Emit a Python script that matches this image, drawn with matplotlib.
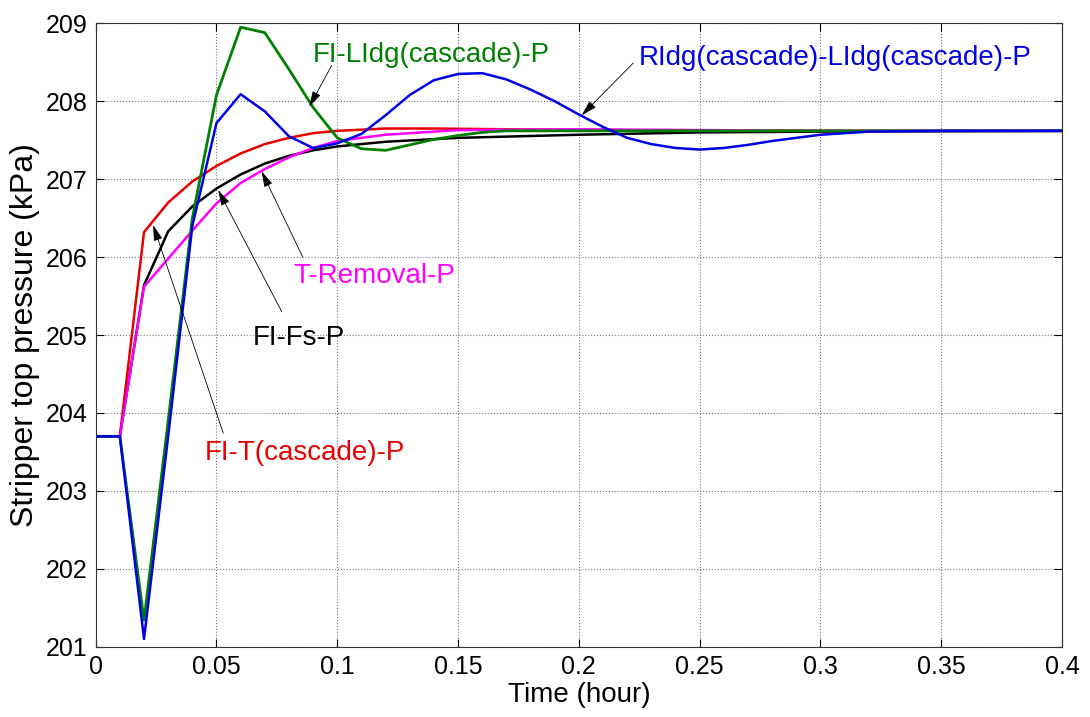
import numpy as np
import matplotlib
matplotlib.use("Agg")
import matplotlib.pyplot as plt

plt.rcParams["font.family"] = ["Liberation Sans", "DejaVu Sans"]

# =========================
# Data
# =========================

# FI-T(cascade)-P  (red)
t_red = [0, 0.01, 0.02, 0.03, 0.04, 0.05, 0.06, 0.07, 0.08, 0.09, 0.10,
         0.12, 0.14, 0.17, 0.20, 0.30, 0.40]
p_red = [203.70, 203.70, 206.32, 206.70, 206.97, 207.17, 207.33, 207.45, 207.53, 207.59, 207.62,
         207.65, 207.65, 207.64, 207.63, 207.62, 207.62]

# FI-Fs-P  (black)
t_black = [0, 0.01, 0.02, 0.03, 0.04, 0.05, 0.06, 0.07, 0.08, 0.09, 0.10,
           0.12, 0.15, 0.20, 0.25, 0.30, 0.40]
p_black = [203.70, 203.70, 205.64, 206.33, 206.65, 206.88, 207.06, 207.20, 207.30, 207.37, 207.42,
           207.48, 207.53, 207.57, 207.60, 207.61, 207.62]

# T-Removal-P  (magenta)
t_mag = [0, 0.01, 0.02, 0.03, 0.04, 0.05, 0.06, 0.07, 0.08, 0.09, 0.10,
         0.12, 0.15, 0.20, 0.30, 0.40]
p_mag = [203.70, 203.70, 205.62, 205.98, 206.34, 206.69, 206.95, 207.13, 207.28, 207.40, 207.49,
         207.57, 207.63, 207.64, 207.62, 207.62]

# FI-LIdg(cascade)-P  (green)
t_green = [0, 0.01, 0.02, 0.03, 0.04, 0.05, 0.06, 0.07, 0.08, 0.09, 0.10,
           0.11, 0.12, 0.13, 0.14, 0.15, 0.16, 0.17, 0.20, 0.30, 0.40]
p_green = [203.70, 203.70, 201.34, 203.90, 206.50, 208.08, 208.95, 208.88, 208.41, 207.92, 207.53,
           207.39, 207.37, 207.44, 207.51, 207.56, 207.60, 207.62, 207.62, 207.62, 207.62]

# RIdg(cascade)-LIdg(cascade)-P  (blue)
t_blue = [0, 0.01, 0.02, 0.03, 0.04, 0.05, 0.06, 0.07, 0.08, 0.09, 0.10,
          0.11, 0.12, 0.13, 0.14, 0.15, 0.16, 0.17, 0.18, 0.19, 0.20,
          0.21, 0.22, 0.23, 0.24, 0.25, 0.26, 0.27, 0.28, 0.29, 0.30,
          0.31, 0.32, 0.35, 0.40]
p_blue = [203.70, 203.70, 201.10, 203.70, 206.40, 207.72, 208.09, 207.87, 207.55, 207.40, 207.46,
          207.58, 207.82, 208.08, 208.27, 208.35, 208.36, 208.28, 208.15, 208.00, 207.83,
          207.67, 207.53, 207.45, 207.40, 207.38, 207.40, 207.44, 207.49, 207.53, 207.57,
          207.59, 207.61, 207.62, 207.62]

X_TICKS = [0, 0.05, 0.1, 0.15, 0.2, 0.25, 0.3, 0.35, 0.4]
X_TICK_LABELS = ["0", "0.05", "0.1", "0.15", "0.2", "0.25", "0.3", "0.35", "0.4"]
Y_TICKS = [201, 202, 203, 204, 205, 206, 207, 208, 209]

GREEN = "#008000"
BLUE = "#0000e6"
RED = "#e60000"
MAGENTA = "#ff00ff"


def add_label(ax, text, color, text_xy, tail, head):
    """Text label plus a thin MATLAB-style arrow pointing at the curve."""
    ax.text(text_xy[0], text_xy[1], text, color=color, fontsize=20,
            ha="left", va="baseline")
    ax.annotate("", xy=head, xytext=tail,
                arrowprops=dict(arrowstyle="-|>,head_length=0.6,head_width=0.17",
                                color="k", lw=0.6, mutation_scale=16,
                                shrinkA=0, shrinkB=0))


def main():
    fig = plt.figure(figsize=(10.9, 7.17), dpi=100)
    ax = fig.add_axes([0.0878, 0.098, 0.8865, 0.8695])

    ax.plot(t_red, p_red, color=RED, lw=1.8)
    ax.plot(t_black, p_black, color="k", lw=1.8)
    ax.plot(t_mag, p_mag, color=MAGENTA, lw=1.8)
    ax.plot(t_green, p_green, color=GREEN, lw=2.0)
    ax.plot(t_blue, p_blue, color=BLUE, lw=1.8)

    ax.set_xlim(0, 0.4)
    ax.set_ylim(201, 209)
    ax.set_xticks(X_TICKS)
    ax.set_xticklabels(X_TICK_LABELS)
    ax.set_yticks(Y_TICKS)
    ax.tick_params(direction="in", length=6, width=0.8, labelsize=18,
                   top=True, right=True, pad=6)
    ax.grid(True, linestyle=":", color="#777777", lw=0.8)
    for s in ax.spines.values():
        s.set_linewidth(0.8)
        s.set_color("#333333")

    ax.set_xlabel("Time (hour)", fontsize=20, labelpad=2)
    ax.set_ylabel("Stripper top pressure (kPa)", fontsize=23, labelpad=4)

    add_label(ax, "FI-LIdg(cascade)-P", GREEN, (0.0899, 208.50),
              (0.0977, 208.46), (0.0884, 207.93))
    add_label(ax, "RIdg(cascade)-LIdg(cascade)-P", BLUE, (0.2246, 208.46),
              (0.2225, 208.49), (0.2012, 207.82))
    add_label(ax, "T-Removal-P", MAGENTA, (0.0817, 205.67),
              (0.0857, 206.00), (0.0687, 207.10))
    add_label(ax, "FI-Fs-P", "k", (0.0651, 204.87),
              (0.0770, 205.30), (0.0507, 206.86))
    add_label(ax, "FI-T(cascade)-P", RED, (0.0452, 203.39),
              (0.0528, 203.74), (0.0238, 206.41))

    fig.savefig("out.png", dpi=100)
    plt.close(fig)


if __name__ == "__main__":
    main()
